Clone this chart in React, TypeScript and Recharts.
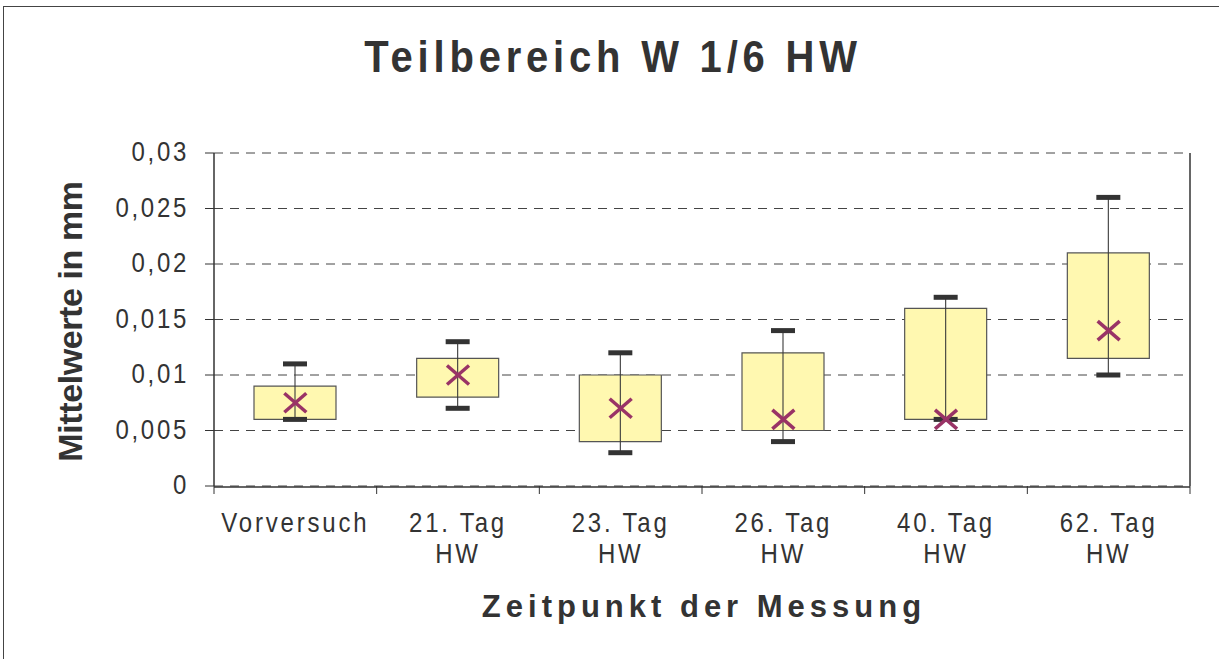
import { ComposedChart, Bar, Scatter, XAxis, YAxis, CartesianGrid } from "recharts";

// values (mm)
const categories = ["Vorversuch", "21. Tag HW", "23. Tag HW", "26. Tag HW", "40. Tag HW", "62. Tag HW"];
const categoryLines = [["Vorversuch"], ["21. Tag", "HW"], ["23. Tag", "HW"], ["26. Tag", "HW"], ["40. Tag", "HW"], ["62. Tag", "HW"]];
const minValues = [0.006, 0.007, 0.003, 0.004, 0.006, 0.01];
const q1Values = [0.006, 0.008, 0.004, 0.005, 0.006, 0.0115];
const q3Values = [0.009, 0.0115, 0.01, 0.012, 0.016, 0.021];
const maxValues = [0.011, 0.013, 0.012, 0.014, 0.017, 0.026];
const meanValues = [0.0075, 0.01, 0.007, 0.006, 0.006, 0.014];
const yTicks = [0, 0.005, 0.01, 0.015, 0.02, 0.025, 0.03];
const boundaryTicks = [0, 1, 2, 3, 4, 5, 6];

const data = categories.map((name, i) => ({
  name,
  slot: i + 0.5,
  box: [q1Values[i], q3Values[i]],
  whisker: [minValues[i], maxValues[i]],
  mean: meanValues[i],
}));

const FONT = "'Liberation Sans', Arial, sans-serif";
const INK = "#333";
const STRETCH = 1.16;

const Whisker = (props: any) => {
  const { x, y, width, height } = props;
  const top = Math.min(y, y + height);
  const bottom = Math.max(y, y + height);
  const cx = x + width / 2;
  return (
    <g>
      <line x1={cx} x2={cx} y1={top} y2={bottom} stroke="#3a3a3a" strokeWidth={1.1} />
      <rect x={cx - 12} y={top - 2.5} width={24} height={5} fill={INK} />
      <rect x={cx - 12} y={bottom - 2.5} width={24} height={5} fill={INK} />
    </g>
  );
};

const MeanMark = (props: any) => {
  const { cx, cy } = props;
  return (
    <g stroke="#993366" strokeWidth={3.5}>
      <line x1={cx - 11} y1={cy - 9.5} x2={cx + 11} y2={cy + 9.5} />
      <line x1={cx - 11} y1={cy + 9.5} x2={cx + 11} y2={cy - 9.5} />
    </g>
  );
};

const CategoryTick = (props: any) => {
  const { x, y, index } = props;
  const lines = categoryLines[index] || [];
  return (
    <g>
      {lines.map((t: string, i: number) => (
        <text
          key={i}
          transform={`translate(${x} ${y + 45 + i * 31}) scale(1 ${STRETCH})`}
          textAnchor="middle"
          fontFamily={FONT}
          fontSize={24}
          letterSpacing={2.8}
          fill={INK}
        >
          {t}
        </text>
      ))}
    </g>
  );
};

const ValueTick = (props: any) => {
  const { x, y, payload } = props;
  return (
    <text
      transform={`translate(${x} ${y + 8}) scale(1 ${STRETCH})`}
      textAnchor="end"
      fontFamily={FONT}
      fontSize={24}
      letterSpacing={2.7}
      fill={INK}
    >
      {String(payload.value).replace(".", ",")}
    </text>
  );
};

const EmptyTick = () => <g />;

const YLabel = (props: any) => {
  const { viewBox } = props;
  const bx = 82;
  const cy = viewBox.y + viewBox.height / 2 + 2;
  return (
    <text
      x={bx}
      y={cy}
      transform={`rotate(-90 ${bx} ${cy})`}
      textAnchor="middle"
      fontFamily={FONT}
      fontWeight="bold"
      fontSize={34}
      letterSpacing={-0.4}
      fill={INK}
    >
      Mittelwerte in mm
    </text>
  );
};

export default function App() {
  return (
    <div style={{ position: "absolute", left: 0, top: 0, width: 1219, height: 659, overflow: "hidden", background: "#fff" }}>
      <div
        style={{
          position: "absolute",
          left: 3,
          top: 6,
          width: 1300,
          height: 700,
          border: "1.5px solid #444",
        }}
      />
      <svg style={{ position: "absolute", left: 0, top: 0 }} width={1219} height={659}>
        <text
          transform={`translate(613 71.5) scale(1 1.1)`}
          textAnchor="middle"
          fontFamily={FONT}
          fontWeight="bold"
          fontSize={40}
          letterSpacing={4.8}
          fill={INK}
        >
          Teilbereich W 1/6 HW
        </text>
        <text
          x={704}
          y={617}
          textAnchor="middle"
          fontFamily={FONT}
          fontWeight="bold"
          fontSize={31}
          letterSpacing={5}
          fill={INK}
        >
          Zeitpunkt der Messung
        </text>
      </svg>
      <div style={{ position: "absolute", left: 0, top: 0 }}>
        <ComposedChart
          width={1219}
          height={659}
          data={data}
          margin={{ top: 153, right: 28, bottom: 0, left: 0 }}
          barGap={-82}
        >
          <CartesianGrid horizontal vertical={false} stroke="#444" strokeDasharray="9 7" yAxisId="left" xAxisId="cat" />
          <XAxis
            xAxisId="cat"
            dataKey="name"
            type="category"
            tick={<CategoryTick />}
            tickLine={false}
            axisLine={{ stroke: INK, strokeWidth: 1.5 }}
            tickSize={0}
            tickMargin={0}
            height={172}
            interval={0}
          />
          <XAxis
            xAxisId="bounds"
            dataKey="slot"
            type="number"
            domain={[0, 6]}
            ticks={boundaryTicks}
            tick={<EmptyTick />}
            tickSize={8}
            height={1}
            axisLine={false}
            tickLine={{ stroke: INK }}
            allowDataOverflow
          />
          <YAxis
            yAxisId="left"
            type="number"
            domain={[0, 0.03]}
            ticks={yTicks}
            width={214}
            tickSize={9}
            tickMargin={16}
            tick={<ValueTick />}
            axisLine={{ stroke: INK, strokeWidth: 1.5 }}
            tickLine={{ stroke: INK }}
            label={<YLabel />}
          />
          <YAxis
            yAxisId="right"
            orientation="right"
            type="number"
            domain={[0, 0.03]}
            width={1}
            tick={false}
            tickLine={false}
            axisLine={{ stroke: INK, strokeWidth: 1.5 }}
          />
          <Bar
            dataKey="box"
            xAxisId="cat"
            yAxisId="left"
            barSize={82}
            fill="#fff8b0"
            stroke="#555"
            strokeWidth={1.2}
            isAnimationActive={false}
          />
          <Bar
            dataKey="whisker"
            xAxisId="cat"
            yAxisId="left"
            barSize={82}
            shape={<Whisker />}
            isAnimationActive={false}
          />
          <Scatter dataKey="mean" xAxisId="cat" yAxisId="left" shape={<MeanMark />} isAnimationActive={false} />
        </ComposedChart>
      </div>
    </div>
  );
}
